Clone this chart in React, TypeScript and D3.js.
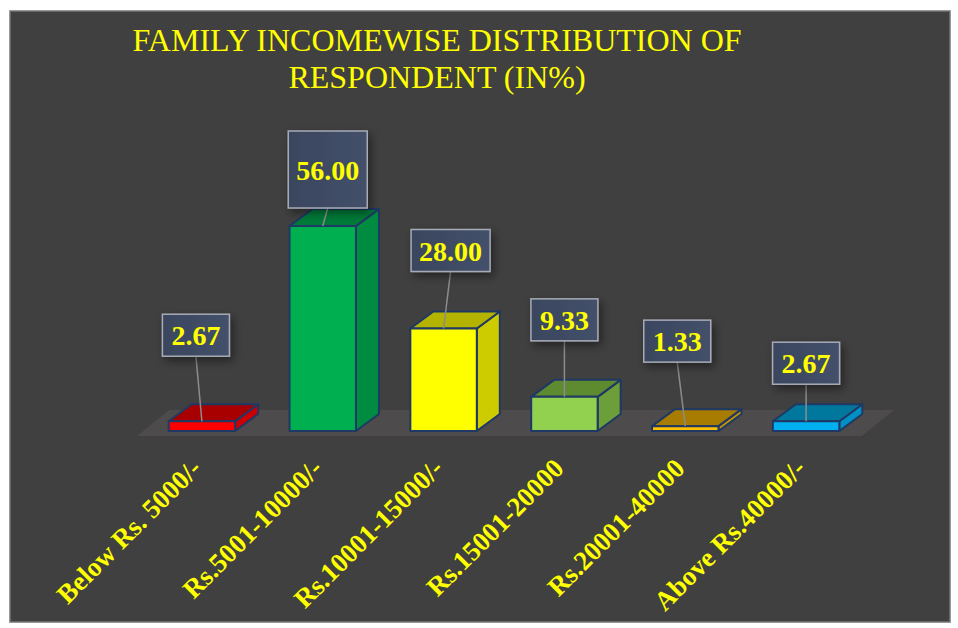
import React from "react";
import * as d3 from "d3";

// chart data
const categories = [
  "Below Rs. 5000/-",
  "Rs.5001-10000/-",
  "Rs.10001-15000/-",
  "Rs.15001-20000",
  "Rs.20001-40000",
  "Above Rs.40000/-",
];
const percents = [2.67, 56.0, 28.0, 9.33, 1.33, 2.67];

// front / top / side shades of each bar
const frontColors = ["#ff0000", "#00b050", "#ffff00", "#92d050", "#ffc000", "#00b0f0"];
const topColors = ["#a80000", "#007a38", "#b3b300", "#5e8a30", "#a87c00", "#00789e"];
const sideColors = ["#cc0000", "#008c40", "#cccc00", "#6c9e3a", "#c89400", "#0090c4"];

// where each data label sits, relative to the bar's top (dx, dy of box bottom)
const labelOffsets: [number, number][] = [
  [-6, -65],
  [5, -18],
  [7, -57],
  [0, -56],
  [-8, -64],
  [0, -37],
];

const W = 958;
const H = 628;
const baseY = 431; // front bottom edge of bars
const depthX = 23;
const depthY = -17;

export default function App() {
  const x = d3
    .scaleBand<string>()
    .domain(categories)
    .range([141.5, 866.5])
    .paddingInner(0.45)
    .paddingOuter(0.225);

  const y = d3.scaleLinear().domain([0, 56]).range([baseY, 226]);

  const bw = x.bandwidth();

  return (
    <svg
      width={W}
      height={H}
      style={{ position: "absolute", left: 0, top: 0 }}
      fontFamily="'Liberation Serif', 'Times New Roman', serif"
    >
      <defs>
        <filter id="shadow" x="-30%" y="-30%" width="170%" height="170%">
          <feDropShadow dx="3" dy="4" stdDeviation="5" floodColor="#000" floodOpacity="0.45" />
        </filter>
        <linearGradient id="boxFill" x1="0" y1="0" x2="1" y2="0">
          <stop offset="0" stopColor="#3a465e" />
          <stop offset="1" stopColor="#44506a" />
        </linearGradient>
      </defs>
      <rect width={W} height={H} fill="#fff" />
      <rect x={10} y={11} width={940} height={611} fill="#404040" stroke="#767676" strokeWidth={1.5} />

      {/* title */}
      <text fill="#ffff00" fontSize={32} textAnchor="middle">
        <tspan x={437} y={51}>FAMILY INCOMEWISE DISTRIBUTION OF</tspan>
        <tspan x={437} y={88}>RESPONDENT (IN%)</tspan>
      </text>

      {/* floor */}
      <path d="M137,436 L862,436 L894,410 L169,410 Z" fill="#4d4b4b" />

      {/* bars */}
      {categories.map((c, i) => {
        const x0 = x(c)!;
        const x1 = x0 + bw;
        const yt = y(percents[i]);
        const front = `M${x0},${baseY} L${x1},${baseY} L${x1},${yt} L${x0},${yt} Z`;
        const top = `M${x0},${yt} L${x1},${yt} L${x1 + depthX},${yt + depthY} L${x0 + depthX},${yt + depthY} Z`;
        const side = `M${x1},${baseY} L${x1 + depthX},${baseY + depthY} L${x1 + depthX},${yt + depthY} L${x1},${yt} Z`;
        return (
          <g key={c} stroke="#1f3864" strokeWidth={2} strokeLinejoin="round">
            <path d={side} fill={sideColors[i]} />
            <path d={top} fill={topColors[i]} />
            <path d={front} fill={frontColors[i]} />
          </g>
        );
      })}

      {/* data labels */}
      {categories.map((c, i) => {
        const cx = x(c)! + bw / 2;
        const yt = y(percents[i]);
        const [dx, dy] = labelOffsets[i];
        const txt = percents[i].toFixed(2);
        const boxW = txt.length > 4 ? 79 : 67;
        const boxH = i === 1 ? 77 : 42;
        const bx = cx + dx - boxW / 2;
        const by = yt + dy - boxH;
        return (
          <g key={"l" + c}>
            <line x1={cx + dx} y1={yt + dy} x2={cx} y2={yt} stroke="#8c8c8c" strokeWidth={1.5} />
            <rect
              x={bx}
              y={by}
              width={boxW}
              height={boxH}
              fill="url(#boxFill)"
              stroke="#a6abb5"
              strokeWidth={1.5}
              filter="url(#shadow)"
            />
            <text
              x={bx + boxW / 2}
              y={by + boxH / 2 + 10}
              textAnchor="middle"
              fill="#ffff00"
              fontWeight="bold"
              fontSize={28}
            >
              {txt}
            </text>
          </g>
        );
      })}

      {/* category labels */}
      {categories.map((c) => {
        const cx = x(c)! + bw / 2 + 1;
        return (
          <text
            key={"c" + c}
            transform={`translate(${cx},470) rotate(-45)`}
            textAnchor="end"
            fill="#ffff00"
            fontWeight="bold"
            fontSize={27}
          >
            {c}
          </text>
        );
      })}
    </svg>
  );
}
